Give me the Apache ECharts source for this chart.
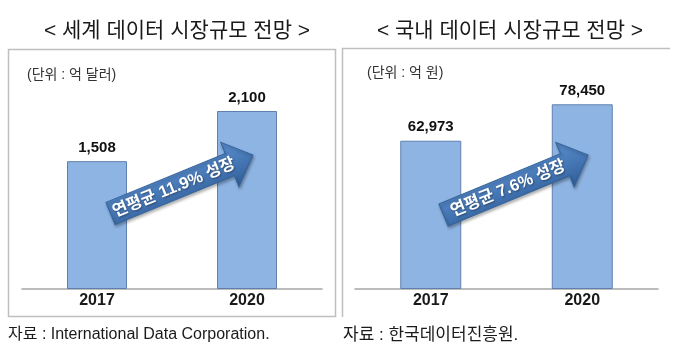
<!DOCTYPE html>
<html>
<head>
<meta charset="utf-8">
<script src="https://cdn.jsdelivr.net/npm/echarts@6/dist/echarts.min.js"></script>
<style>
html,body{margin:0;padding:0;background:#fff;}
#c{width:680px;height:348px;}
</style>
</head>
<body>
<div id="c"></div>
<script>
const categories = ['2017', '2020'];
const worldValues = [1508, 2100];
const koreaValues = [62973, 78450];
const titles = ['< 세계 데이터 시장규모 전망 >', '< 국내 데이터 시장규모 전망 >'];
const units = ['(단위 : 억 달러)', '(단위 : 억 원)'];
const growthLabels = ['연평균 11.9% 성장', '연평균 7.6% 성장'];
const footnotes = ['자료 : International Data Corporation.', '자료 : 한국데이터진흥원.'];

const FONT = "'Liberation Sans', 'Noto Sans CJK KR', sans-serif";
const chart = echarts.init(document.getElementById('c'), null, {renderer: 'canvas'});

function fmt(p) { return Number(p.value).toLocaleString('en-US'); }

function arrow(x, y, L, deg, label) {
  const bw = 12, hw = 24, hl = 25;
  return {
    type: 'group', x: x, y: y, rotation: deg * Math.PI / 180,
    children: [
      {
        type: 'polygon', z: 100,
        shape: {points: [[0, -bw], [L - hl, -bw], [L - hl, -hw], [L, 0], [L - hl, hw], [L - hl, bw], [0, bw]]},
        style: {
          fill: new echarts.graphic.LinearGradient(0, 0, 0, 1, [
            {offset: 0, color: '#5b8fcf'}, {offset: 0.5, color: '#4778b6'}, {offset: 1, color: '#2f5e98'}
          ]),
          stroke: '#35649c', lineWidth: 1,
          shadowBlur: 3, shadowColor: 'rgba(0,0,0,0.3)', shadowOffsetX: 1, shadowOffsetY: 2
        }
      },
      {
        type: 'text', z: 101, x: (L - hl) / 2 + 4, y: 0.5,
        style: {
          text: label, fill: '#ffffff', font: "bold 16.5px " + FONT,
          align: 'center', verticalAlign: 'middle',
          textShadowColor: 'rgba(0,0,0,0.35)', textShadowBlur: 2, textShadowOffsetX: 1, textShadowOffsetY: 1
        }
      }
    ]
  };
}

const barStyle = {color: '#8eb4e3', borderColor: '#5f80ad', borderWidth: 1};
const labelStyle = {show: true, position: 'top', distance: 6, formatter: fmt,
  fontFamily: FONT, fontWeight: 'bold', fontSize: 15, color: '#111'};

const option = {
  backgroundColor: '#ffffff',
  animation: false,
  title: [
    {text: titles[0], left: 172, top: 16, textAlign: 'center',
      textStyle: {fontFamily: FONT, fontSize: 21, fontWeight: 'normal', color: '#1a1a1a'}},
    {text: titles[1], left: 505, top: 16, textAlign: 'center',
      textStyle: {fontFamily: FONT, fontSize: 21, fontWeight: 'normal', color: '#1a1a1a'}}
  ],
  grid: [
    {left: 22, width: 300, top: 68.6, height: 220.4},
    {left: 355, width: 303, top: 77.1, height: 211.9}
  ],
  xAxis: [0, 1].map(i => ({
    type: 'category', gridIndex: i, data: categories, boundaryGap: true,
    axisLine: {lineStyle: {color: '#a6a6a6', width: 1.5}},
    axisTick: {show: false},
    axisLabel: {fontFamily: FONT, fontWeight: 'bold', fontSize: 16, color: '#1a1a1a', margin: 4}
  })),
  yAxis: [
    {type: 'value', gridIndex: 0, min: 0, max: 2600, show: false},
    {type: 'value', gridIndex: 1, min: 0, max: 90000, show: false}
  ],
  series: [
    {type: 'bar', xAxisIndex: 0, yAxisIndex: 0, data: worldValues, barWidth: 60,
      itemStyle: barStyle, label: labelStyle, z: 2},
    {type: 'bar', xAxisIndex: 1, yAxisIndex: 1, data: koreaValues, barWidth: 61,
      itemStyle: barStyle, label: labelStyle, z: 2}
  ],
  graphic: [
    {type: 'rect', shape: {x: 8.5, y: 49.5, width: 327, height: 267},
      style: {fill: 'none', stroke: '#bfbfbf', lineWidth: 1.5}, z: 1},
    {type: 'polyline', shape: {points: [[342.5, 317], [342.5, 48.5], [670, 48.5]]},
      style: {fill: 'none', stroke: '#bfbfbf', lineWidth: 1.5}, z: 1},
    {type: 'text', x: 27, y: 75, style: {text: units[0], font: "14px " + FONT, fill: '#333', verticalAlign: 'middle'}},
    {type: 'text', x: 367, y: 73, style: {text: units[1], font: "14px " + FONT, fill: '#333', verticalAlign: 'middle'}},
    {type: 'text', x: 8, y: 335, style: {text: footnotes[0], font: "16px " + FONT, fill: '#1a1a1a', verticalAlign: 'middle'}},
    {type: 'text', x: 343, y: 335, style: {text: footnotes[1], font: "17px " + FONT, fill: '#1a1a1a', verticalAlign: 'middle'}},
    arrow(110.5, 213.5, 154, 22.3, growthLabels[0]),
    arrow(443.5, 215, 156.5, 22.5, growthLabels[1])
  ]
};
chart.setOption(option);
</script>
</body>
</html>
